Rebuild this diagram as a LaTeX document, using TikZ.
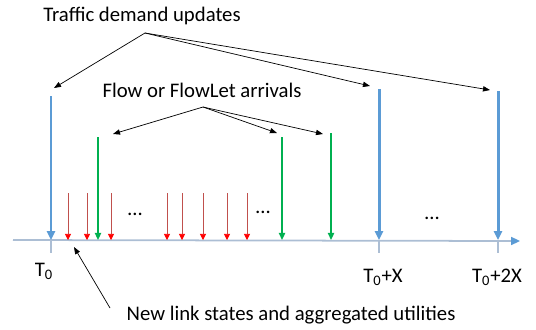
\documentclass[tikz,border=0pt]{standalone}
\usepackage{fontspec}
\setmainfont{Carlito}
\usetikzlibrary{arrows.meta, positioning}
\definecolor{updblue}{RGB}{91,155,213}
\definecolor{axisgrey}{RGB}{172,190,212}
\definecolor{flowgreen}{RGB}{0,176,80}
\definecolor{pktred}{RGB}{192,80,77}

\begin{document}
\begin{tikzpicture}[x=0.02cm, y=-0.02cm,
    lbl/.style={font=\fontsize{11.8}{14}\selectfont, inner sep=0pt},
    update/.style={-{Triangle[length=5pt, width=4.5pt]}, line width=1.7pt, draw=updblue},
    flow/.style={-{Triangle[length=4pt, width=3.5pt]}, line width=1.1pt, draw=flowgreen},
    pkt/.style={-{Triangle[length=3.5pt, width=3.5pt, color=red]}, line width=0.5pt, draw=pktred},
    pointer/.style={-{Triangle[length=4pt, width=3pt]}, line width=0.4pt},
    tick/.style={draw=axisgrey, line width=0.6pt}
]
\useasboundingbox (0,0) rectangle (536,329);

% ==== Time axis ====
\coordinate (axisL) at (13,240);
\coordinate (axisR) at (520,241);
\draw[draw=axisgrey, line width=1pt, -{Triangle[length=5pt, width=4.5pt, color=updblue]}] (axisL) -- (axisR);

% ==== Traffic demand updates (blue) ====
\foreach \n/\x/\y in {t0/51/96, tX/379/89, t2X/498/91} {
  \coordinate (\n) at (\x,240);
  \coordinate (\n top) at (\x,\y);
  \draw[update] (\n top) -- (\n);
  \draw[tick] (\n) -- ++(0,13);
}

% ==== Packets (red) ====
\foreach \x [count=\i] in {68,87,111,167,182,203,227,247} {
  \coordinate (pkt\i) at (\x,193);
  \coordinate (pkt\i end) at (\x,240);
  \draw[pkt] (pkt\i) -- (pkt\i end);
}

% ==== Flow arrivals (green) ====
\foreach \x/\y [count=\i] in {98/137, 282/137, 331/133} {
  \coordinate (flow\i) at (\x,\y);
  \coordinate (flow\i end) at (\x,240);
  \draw[flow] (flow\i) -- (flow\i end);
}

% ==== Dots ====
\node[lbl] (dotsA) at (135,214) {…};
\node[lbl] (dotsB) at (263,212) {…};
\node[lbl] (dotsC) at (432,218) {…};

% ==== Time labels ====
\node[lbl] (lt0) at (44,271) {T\textsubscript{0}};
\node[lbl] (ltX) at (383,277) {T\textsubscript{0}+X};
\node[lbl] (lt2X) at (497,277) {T\textsubscript{0}+2X};

% ==== Captions ====
\node[lbl] (traffic) at (142,16) {Traffic demand updates};
\node[lbl] (flowlbl) at (202,90) {Flow or FlowLet arrivals};
\node[lbl] (linklbl) at (291,315) {New link states and aggregated utilities};

% ==== Pointers ====
\coordinate (trafficsrc) at (145,33);
\coordinate (trafficA) at (54,88);
\coordinate (trafficB) at (370,86);
\coordinate (trafficC) at (490,90);
\foreach \t in {trafficA, trafficB, trafficC}
  \draw[pointer] (trafficsrc) -- (\t);

\coordinate (flowsrc) at (203,107);
\coordinate (flowA) at (113,134);
\coordinate (flowB) at (277,133);
\coordinate (flowC) at (323,134);
\foreach \t in {flowA, flowB, flowC}
  \draw[pointer] (flowsrc) -- (\t);

\coordinate (linksrc) at (110,308);
\coordinate (linktip) at (74,247);
\draw[pointer] (linksrc) -- (linktip);

\end{tikzpicture}
\end{document}
